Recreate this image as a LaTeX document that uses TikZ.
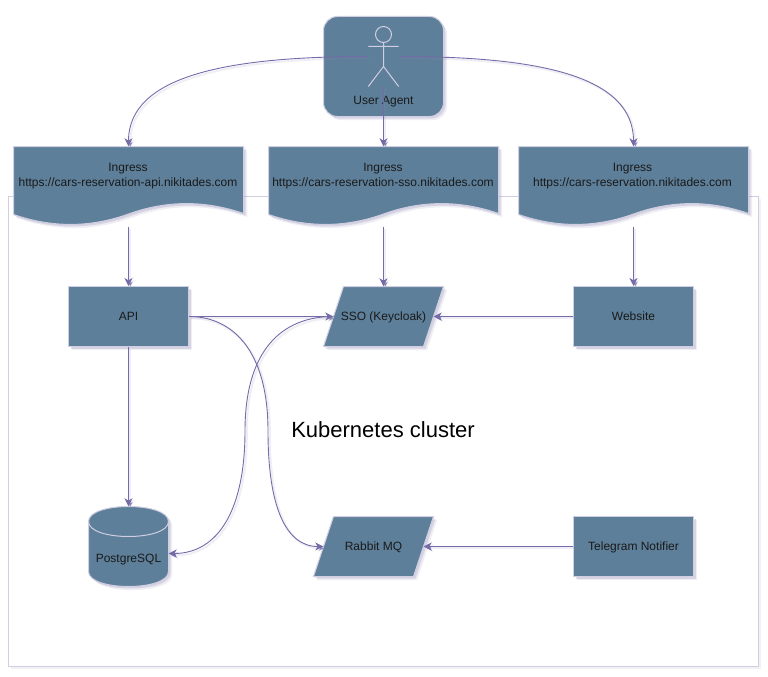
\documentclass[tikz,border=0pt]{standalone}
\usepackage{fontspec}
\setmainfont{Liberation Sans}
\usetikzlibrary{arrows.meta,shadows}
\definecolor{shapefill}{HTML}{5D7F99}
\definecolor{shapeline}{HTML}{D0CEE2}
\definecolor{linkcol}{HTML}{736CA8}
\definecolor{inktext}{HTML}{1A1A1A}
\definecolor{shadecol}{HTML}{8F8AB5}
\tikzset{
  softshade/.style={
    general shadow={fill=shadecol,opacity=.14,shadow xshift=3.6pt,shadow yshift=-3.6pt},
    general shadow={fill=shadecol,opacity=.26,shadow xshift=2pt,shadow yshift=-2pt}},
  shapestyle/.style={draw=shapeline,line width=1pt,fill=shapefill,softshade},
  boxtext/.style={text=inktext,font=\fontsize{12}{15}\selectfont,text height=9.6pt,text depth=1.6pt,inner sep=0pt},
  boxnode/.style={shapestyle,boxtext,minimum width=120pt,minimum height=60pt},
  txt/.style={text=inktext,font=\fontsize{12}{15}\selectfont,inner sep=0pt,align=center},
  anchorbox/.style={draw=none,fill=none,inner sep=0pt},
  actorline/.style={draw=shapeline,line width=1pt},
  link/.style={draw=linkcol,line width=.9pt,-{Stealth[length=8pt,width=8pt,inset=2.4pt]},
    preaction={draw=shadecol,draw opacity=.14,line width=2pt,transform canvas={shift={(1.8pt,-1.8pt)}}}}
}
\newcommand{\ingressshape}[1]{%
  \begin{scope}[xshift=#1]
    \path[shapestyle] (0,146.5) -- (230,146.5) -- (230,213.5)
      .. controls (191.7,200.2) and (153.3,200.2) .. (115,214)
      .. controls (76.7,227.8) and (38.3,227.8) .. (0,214.5) -- cycle;
  \end{scope}}
\begin{document}
\begin{tikzpicture}[x=1pt,y=-1pt]
\useasboundingbox (0,0) rectangle (768,677);
% cluster
\path[draw=shapeline,line width=1pt,fill=white,
  general shadow={fill=shadecol,opacity=.12,shadow xshift=2.5pt,shadow yshift=-2.5pt},
  general shadow={fill=white,shadow xshift=0pt,shadow yshift=0pt}] (8.5,196.5) rectangle (758.5,666.5);
% user agent
\node[shapestyle,rounded corners=14pt,minimum width=120pt,minimum height=100pt,inner sep=0pt] (agentbox) at (383.5,66.5) {};
\node[anchorbox,circle,minimum size=16pt] (head) at (383.5,34.5) {};
\path[actorline] (head) circle (8);
\node[anchorbox,minimum width=30.4pt,minimum height=60pt] (actor) at (383.5,56.5) {};
\path[actorline] (383.5,42.5) -- (383.5,66.5) (368.3,46.5) -- (398.7,46.5)
  (368.3,86.5) -- (383.5,66.5) -- (398.7,86.5);
\node[boxtext] (agentlabel) at (383.5,100) {User Agent};
% ingresses
\ingressshape{13.5}
\ingressshape{268.5}
\ingressshape{518.5}
\node[anchorbox,minimum width=230pt,minimum height=80pt] (ing1) at (128.5,186.5) {};
\node[anchorbox,minimum width=230pt,minimum height=80pt] (ing2) at (383.5,186.5) {};
\node[anchorbox,minimum width=230pt,minimum height=80pt] (ing3) at (633.5,186.5) {};
\node[txt] (ing1t) at (128,176) {Ingress\\https://cars-reservation-api.nikitades.com};
\node[txt] (ing2t) at (383,176) {Ingress\\https://cars-reservation-sso.nikitades.com};
\node[txt] (ing3t) at (632.5,176) {Ingress\\https://cars-reservation.nikitades.com};
% boxes
\node[boxnode] (api) at (128.5,316.5) {API};
\node[boxnode] (web) at (633.5,316.5) {Website};
\node[boxnode] (tg) at (633.5,546.5) {Telegram Notifier};
% parallelograms
\path[shapestyle] (343.5,286.5) -- (443.5,286.5) -- (423.5,346.5) -- (323.5,346.5) -- cycle;
\node[anchorbox,boxtext,minimum width=100pt,minimum height=60pt] (sso) at (383.5,316.5) {SSO (Keycloak)};
\path[shapestyle] (333.5,516.5) -- (433.5,516.5) -- (413.5,576.5) -- (313.5,576.5) -- cycle;
\node[anchorbox,boxtext,minimum width=100pt,minimum height=60pt] (mq) at (373.5,546.5) {Rabbit MQ};
% database
\path[shapestyle] (88.5,521.5) .. controls (88.5,501.5) and (168.5,501.5) .. (168.5,521.5) -- (168.5,571.5)
  .. controls (168.5,591.5) and (88.5,591.5) .. (88.5,571.5) -- cycle;
\path[draw=shapeline,line width=1pt] (88.5,521.5) .. controls (88.5,541.5) and (168.5,541.5) .. (168.5,521.5);
\node[anchorbox,minimum width=80pt,minimum height=80pt] (pg) at (128.5,546.5) {};
\node[boxtext] (pgt) at (128.5,558.7) {PostgreSQL};
% title
\node[inner sep=0pt,text=black,font=\fontsize{22}{26}\selectfont] (title) at (383,430) {Kubernetes cluster};
% connectors
\coordinate (midmq) at (268,431);
\coordinate (midpg) at (245,431);
\draw[link] (actor.south) -- (ing2.north);
\draw[link] (actor.west) .. controls (230,56.5) and (128.5,75) .. (ing1.north);
\draw[link] (actor.east) .. controls (537,56.5) and (633.5,75) .. (ing3.north);
\draw[link] (ing1.south) -- (api.north);
\draw[link] (ing2.south) -- (sso.north);
\draw[link] (ing3.south) -- (web.north);
\draw[link] (api.south) -- (pg.north);
\draw[link] (api.east) -- (sso.west);
\draw[link] (web.west) -- (sso.east);
\draw[link] (tg.west) -- (mq.east);
\draw[link] (api.east) .. controls (232,316.5) and (268,350) .. (midmq)
  .. controls (268,505) and (285,546.5) .. (mq.west);
\draw[link] (sso.west) .. controls (282,316.5) and (245,350) .. (midpg)
  .. controls (245,510) and (218,553.5) .. (pg.east |- 0,553.5);
\end{tikzpicture}
\end{document}
